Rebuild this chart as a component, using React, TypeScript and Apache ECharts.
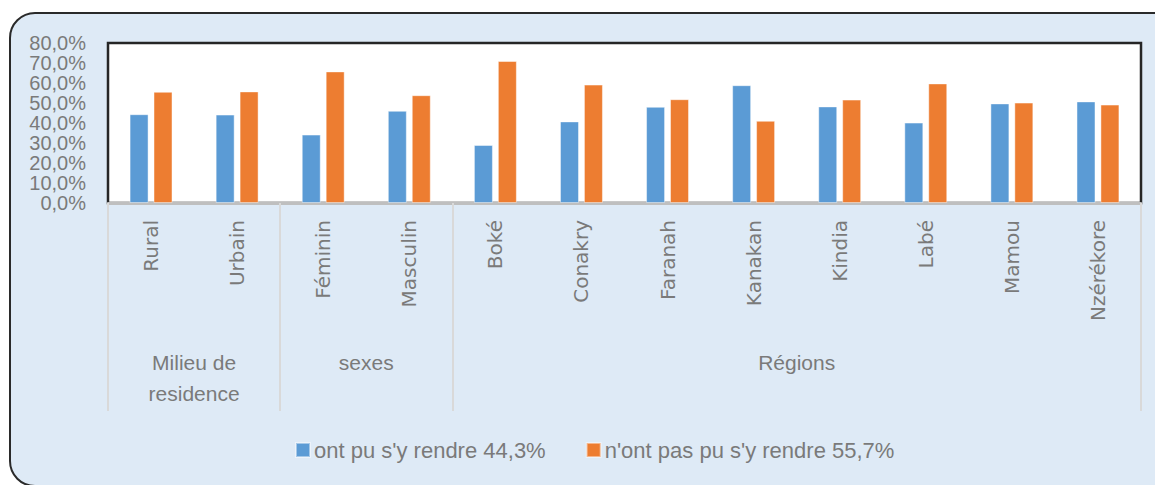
import React, { useEffect, useRef } from "react";
import * as echarts from "echarts";

const categories = [
  "Rural",
  "Urbain",
  "Féminin",
  "Masculin",
  "Boké",
  "Conakry",
  "Faranah",
  "Kanakan",
  "Kindia",
  "Labé",
  "Mamou",
  "Nzérékore",
];

const seriesNames = ["ont pu s'y rendre 44,3%", "n'ont pas pu s'y rendre 55,7%"];

const ontPu = [44.4, 44.2, 34.2, 46.1, 29.0, 40.8, 48.1, 58.9, 48.3, 40.2, 49.8, 50.8];
const nontPasPu = [55.6, 55.8, 65.8, 53.9, 71.0, 59.2, 51.9, 41.1, 51.7, 59.8, 50.2, 49.2];

const groupNames = ["Milieu de\nresidence", "sexes", "Régions"];
const groupCenters = [1, 3, 8];
const groupBounds = [0, 2, 4, 12];

const yTicks = { min: 0, max: 80, interval: 10 };

const GRAY = "#7a7a7a";

export default function App() {
  const ref = useRef<HTMLDivElement>(null);

  useEffect(() => {
    document.body.style.margin = "0";
    if (!ref.current) return;
    const chart = echarts.init(ref.current, null, { renderer: "svg" });
    chart.setOption({
      animation: false,
      backgroundColor: "transparent",
      grid: {
        left: 108,
        top: 43,
        right: 14,
        bottom: 282,
        show: true,
        backgroundColor: "#ffffff",
        borderColor: "#262626",
        borderWidth: 2.5,
      },
      legend: {
        left: 295,
        top: 439,
        padding: 0,
        itemWidth: 14,
        itemHeight: 14,
        itemGap: 40,
        icon: "rect",
        textStyle: {
          color: GRAY,
          fontSize: 22,
          fontFamily: "Liberation Sans",
          padding: [0, 0, 0, -1],
        },
        data: seriesNames,
      },
      xAxis: [
        {
          type: "category",
          data: categories,
          axisLine: { show: true, lineStyle: { color: "#bfbfbf", width: 3 } },
          axisTick: { show: false },
          axisLabel: {
            interval: 0,
            rotate: 90,
            margin: 17,
            color: GRAY,
            fontSize: 20,
            fontFamily: "DejaVu Sans",
          },
        },
        {
          type: "value",
          min: 0,
          max: 12,
          position: "bottom",
          axisLine: { show: false },
          splitLine: { show: false },
          axisTick: {
            show: true,
            customValues: groupBounds,
            length: 208,
            lineStyle: { color: "#d9d9d9", width: 2 },
          },
          axisLabel: {
            customValues: groupCenters,
            margin: 144,
            color: GRAY,
            fontSize: 21,
            lineHeight: 31,
            fontFamily: "Liberation Sans",
            formatter: (v: number) => groupNames[groupCenters.indexOf(v)] ?? "",
          },
        },
      ],
      yAxis: {
        type: "value",
        min: yTicks.min,
        max: yTicks.max,
        interval: yTicks.interval,
        axisLine: { show: false },
        axisTick: { show: false },
        splitLine: { show: false },
        axisLabel: {
          margin: 22,
          color: GRAY,
          fontSize: 20,
          lineHeight: 19,
          hideOverlap: false,
          showMinLabel: true,
          showMaxLabel: true,
          fontFamily: "Liberation Sans",
          formatter: (v: number) => v.toFixed(1).replace(".", ",") + "%",
        },
      },
      series: [
        {
          name: seriesNames[0],
          type: "bar",
          data: ontPu,
          barWidth: 19,
          barGap: "26%",
          itemStyle: { color: "#5b9bd5", borderColor: "rgba(255,255,255,0.45)", borderWidth: 1 },
        },
        {
          name: seriesNames[1],
          type: "bar",
          data: nontPasPu,
          barWidth: 19,
          itemStyle: { color: "#ed7d31", borderColor: "rgba(255,255,255,0.45)", borderWidth: 1 },
        },
      ],
    });
    return () => chart.dispose();
  }, []);

  return (
    <div
      style={{
        position: "absolute",
        left: 0,
        top: 0,
        width: 1155,
        height: 485,
        overflow: "hidden",
        background: "#ffffff",
      }}
    >
      <div
        style={{
          position: "absolute",
          left: 9,
          top: 12,
          width: 1180,
          height: 475,
          border: "2px solid #2a2a2a",
          borderRadius: 26,
          background: "#deeaf6",
          boxSizing: "border-box",
        }}
      />
      <div ref={ref} style={{ position: "absolute", left: 0, top: 0, width: 1155, height: 485 }} />
    </div>
  );
}
